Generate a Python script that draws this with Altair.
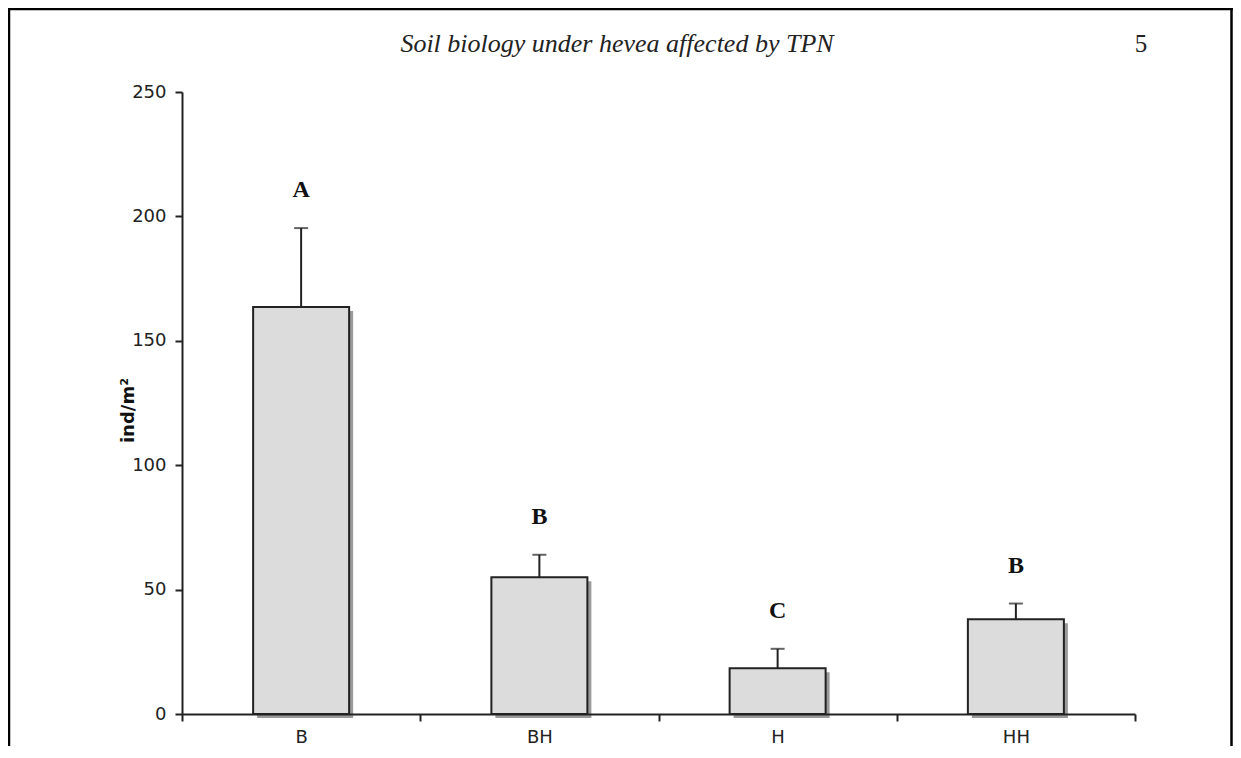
import altair as alt
import pandas as pd

treatments = ["B", "BH", "H", "HH"]
means = [163.6, 55.0, 18.4, 38.1]
errors = [31.7, 9.0, 7.8, 6.3]
letters = ["A", "B", "C", "B"]
y_ticks = [0, 50, 100, 150, 200, 250]
page_title = "Soil biology under hevea affected by TPN"
page_number = "5"

df = pd.DataFrame({
    "treatment": treatments,
    "mean": means,
    "err": errors,
    "letter": letters,
})
df["top"] = df["mean"] + df["err"]

W, H = 953, 622
PAD_L, PAD_T = 174, 84

x = alt.X("treatment:N", sort=treatments,
          scale=alt.Scale(domain=treatments, paddingInner=0, paddingOuter=0),
          axis=alt.Axis(title=None, labelAngle=0, tickBand="extent", tickSize=7,
                        tickWidth=2, tickColor="#222", domainColor="#222", domainWidth=2,
                        labelFont="DejaVu Sans", labelFontSize=18, labelColor="#222",
                        labelPadding=7, zindex=1))
y_scale = alt.Scale(domain=[0, 250], nice=False)

base = alt.Chart(df)

shadow = base.mark_bar(width=96, color="#9a9a9a", xOffset=4, yOffset=4).encode(
    x=x, y=alt.Y("mean:Q", scale=y_scale))

bars = base.mark_bar(width=96, fill="#dcdcdc", stroke="#222", strokeWidth=2).encode(
    x=x,
    y=alt.Y("mean:Q", scale=y_scale,
            axis=alt.Axis(values=y_ticks, title="ind/m²", grid=False, tickSize=7,
                          tickWidth=2, tickColor="#222", domainColor="#222", domainWidth=2,
                          labelFont="DejaVu Sans", labelFontSize=18, labelColor="#222",
                          labelPadding=9, titleFont="DejaVu Sans", titleFontSize=18,
                          titleFontWeight="bold", titleColor="#111", titleAngle=270,
                          titleX=-54, titleY=318, titleAlign="center",
                          titleBaseline="middle", zindex=1)))

whisker = base.mark_rule(color="#222", strokeWidth=2).encode(
    x=x, y=alt.Y("mean:Q", scale=y_scale), y2="top:Q")

cap = base.mark_tick(color="#222", size=14, thickness=2).encode(
    x=x, y=alt.Y("top:Q", scale=y_scale))

letter_text = base.mark_text(font="Liberation Serif", fontSize=24, fontWeight="bold",
                             color="#111", dy=-38, baseline="middle").encode(
    x=x, y=alt.Y("top:Q", scale=y_scale), text="letter:N")

title_text = alt.Chart(pd.DataFrame({"t": [page_title]})).mark_text(
    font="Liberation Serif", fontStyle="italic", fontSize=26, color="#222",
    baseline="middle", align="center").encode(
    x=alt.value(435), y=alt.value(-48), text="t:N")

num_text = alt.Chart(pd.DataFrame({"t": [page_number]})).mark_text(
    font="Liberation Serif", fontSize=25, color="#222",
    baseline="middle", align="center").encode(
    x=alt.value(959), y=alt.value(-48), text="t:N")

frame_df = pd.DataFrame({"k": [0]})
left_line = alt.Chart(frame_df).mark_rule(color="black", strokeWidth=2.5).encode(
    x=alt.value(-173), y=alt.value(-84), y2=alt.value(700))
right_line = alt.Chart(frame_df).mark_rule(color="black", strokeWidth=2.5).encode(
    x=alt.value(1049.5), y=alt.value(-84), y2=alt.value(700))
top_line = alt.Chart(frame_df).mark_rule(color="black", strokeWidth=2.5).encode(
    x=alt.value(-174), x2=alt.value(1051), y=alt.value(-83))

chart = alt.layer(
    shadow, bars, whisker, cap, letter_text, title_text, num_text,
    left_line, right_line, top_line
).properties(
    width=W, height=H,
    background="white",
    autosize=alt.AutoSizeParams(type="none"),
    padding={"left": PAD_L, "top": PAD_T, "right": 98, "bottom": 32},
).configure_view(strokeWidth=0, stroke="transparent")

chart.save("out.html", embed_options={"renderer": "svg", "actions": False})
